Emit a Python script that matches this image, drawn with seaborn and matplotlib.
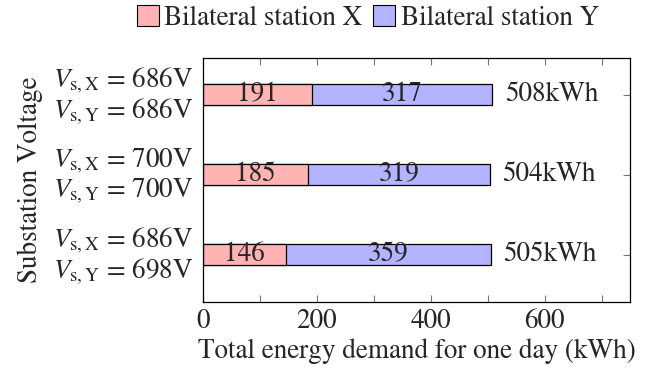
import matplotlib
matplotlib.use("Agg")
import matplotlib.pyplot as plt
import seaborn as sns
import pandas as pd
from matplotlib.patches import Patch
from matplotlib.ticker import MultipleLocator, FuncFormatter
import matplotlib.transforms as mtransforms

categories = [
    "$V_{\\mathrm{s,X}}$ = 686V\n$V_{\\mathrm{s,Y}}$ = 686V",
    "$V_{\\mathrm{s,X}}$ = 700V\n$V_{\\mathrm{s,Y}}$ = 700V",
    "$V_{\\mathrm{s,X}}$ = 686V\n$V_{\\mathrm{s,Y}}$ = 698V",
]
station_x = [191, 185, 146]
station_y = [317, 319, 359]
totals = [508, 504, 505]
series_names = ["Bilateral station X", "Bilateral station Y"]
xtick_labels = ["0", "200", "400", "600"]

sns.set_style("white")
plt.rcParams["font.family"] = ["STIXGeneral", "DejaVu Serif"]
plt.rcParams["mathtext.fontset"] = "stix"

red = "#FFB3B3"
blue = "#B3B3FF"
FS = 19.5

df = pd.DataFrame({"cat": categories, "x": station_x, "y": station_y, "total": totals})

fig = plt.figure(figsize=(6.45, 3.76), dpi=100)
ax = fig.add_axes([203 / 645, 1 - 302 / 376, 427 / 645, 244 / 376])

sns.barplot(data=df, x="total", y="cat", orient="h", color=blue, edgecolor="black",
            linewidth=0.9, width=0.26, saturation=1, ax=ax)
sns.barplot(data=df, x="x", y="cat", orient="h", color=red, edgecolor="black",
            linewidth=0.9, width=0.26, saturation=1, ax=ax)

for i, (a, b, t) in enumerate(zip(station_x, station_y, totals)):
    ax.text(a / 2, i, str(a), ha="center", va="center", fontsize=FS)
    ax.text(a + b / 2, i, str(b), ha="center", va="center", fontsize=FS)
    ax.text(t + 22, i, f"{t}kWh", ha="left", va="center", fontsize=FS)

ax.set_xlim(0, 750)
ax.set_ylim(2.59, -0.46)
ax.xaxis.set_major_locator(MultipleLocator(100))
ax.xaxis.set_major_formatter(FuncFormatter(
    lambda v, p: xtick_labels[int(round(v)) // 200] if int(round(v)) % 200 == 0 and int(round(v)) // 200 < len(xtick_labels) else ""))
ax.tick_params(axis="x", direction="in", top=True, bottom=True, length=5, width=0.8,
               color="0.45", labelsize=FS, pad=5)
ax.tick_params(axis="y", direction="in", left=True, right=True, length=5, width=0.8,
               color="0.45", labelsize=FS, pad=7)
shift = mtransforms.ScaledTranslation(0, 3 / 100, fig.dpi_scale_trans)
for lab in ax.get_yticklabels():
    lab.set_linespacing(1.05)
    lab.set_transform(lab.get_transform() + shift)

for s in ax.spines.values():
    s.set_color("black")
    s.set_linewidth(0.9)

ax.set_xlabel("Total energy demand for one day (kWh)", fontsize=FS, labelpad=3)
ax.set_ylabel("Substation Voltage", fontsize=FS, labelpad=7)

handles = [Patch(facecolor=red, edgecolor="black", linewidth=0.8),
           Patch(facecolor=blue, edgecolor="black", linewidth=0.8)]
fig.legend(handles, series_names, loc="center", bbox_to_anchor=(368 / 645, 1 - 18 / 376),
           ncol=2, frameon=False, fontsize=FS, handlelength=0.8, handleheight=0.8,
           handletextpad=0.2, columnspacing=0.4, borderpad=0)

fig.savefig("out.png", dpi=100)
